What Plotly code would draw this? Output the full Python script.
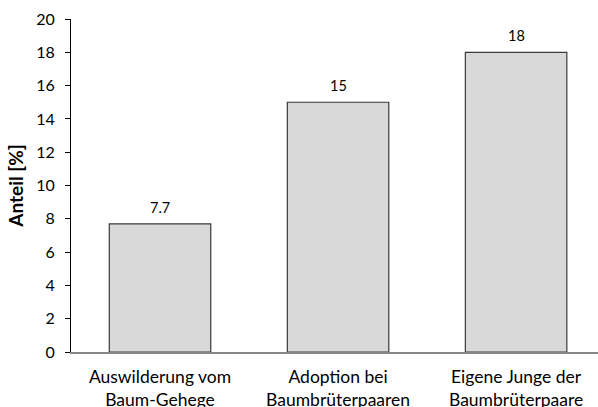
import plotly.graph_objects as go

categories = ["Auswilderung vom<br>Baum-Gehege", "Adoption bei<br>Baumbrüterpaaren", "Eigene Junge der<br>Baumbrüterpaare"]
values = [7.7, 15, 18]
value_labels = ["7.7", "15", "18"]
y_ticks = list(range(0, 21, 2))

FONT = "Lato, Open Sans, sans-serif"

fig = go.Figure(go.Bar(
    x=list(range(len(categories))),
    y=values,
    marker=dict(color="#d9d9d9", line=dict(color="#3a3a3a", width=1.2)),
))

for i, (v, lab) in enumerate(zip(values, value_labels)):
    fig.add_annotation(x=i, y=v, text=lab, showarrow=False, yanchor="bottom",
                       yshift=6, font=dict(size=14.5, family=FONT, color="#000000"))

fig.update_layout(
    width=598, height=407,
    margin=dict(l=71, r=0, t=19, b=55),
    paper_bgcolor="white", plot_bgcolor="white",
    bargap=0.43,
    showlegend=False,
    font=dict(family=FONT, color="#000000", size=15),
)
fig.update_xaxes(
    tickmode="array", tickvals=list(range(len(categories))), ticktext=categories,
    range=[-0.5, 2.46],
    showline=True, linecolor="#868686", linewidth=2,
    showgrid=False, ticks="", zeroline=False,
    tickfont=dict(size=17.5, family=FONT),
    ticklabelstandoff=8,
    automargin=False,
)
fig.update_yaxes(
    range=[0, 20], tickmode="array", tickvals=y_ticks,
    showline=True, linecolor="#000000", linewidth=1,
    ticks="outside", ticklen=5, tickcolor="#000000",
    showgrid=False, zeroline=False,
    tickfont=dict(size=16, family=FONT),
    ticklabelstandoff=7,
    automargin=False,
    title=dict(text="<b>Anteil [%]</b>", font=dict(size=19, family=FONT), standoff=7),
)

fig.write_html("out.html")
